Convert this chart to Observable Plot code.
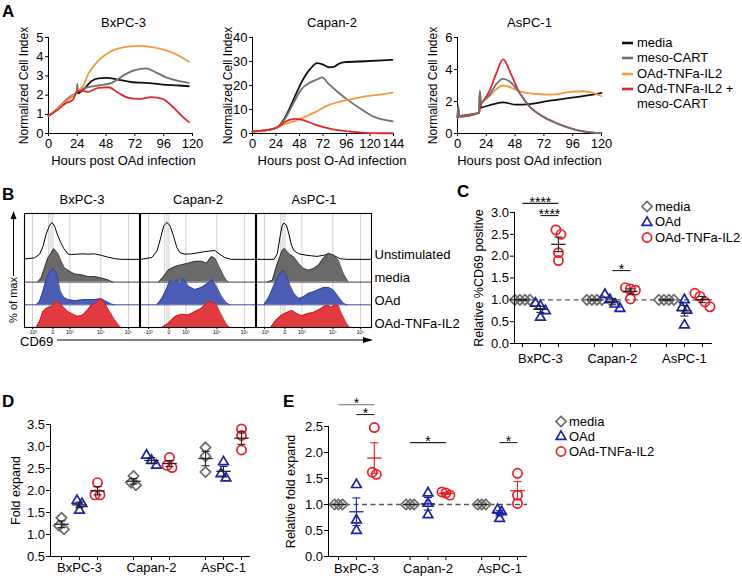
<!DOCTYPE html>
<html><head><meta charset="utf-8">
<script src="https://cdn.jsdelivr.net/npm/d3@7"></script>
<script src="https://cdn.jsdelivr.net/npm/@observablehq/plot@0.6"></script>
<style>
body{margin:0;background:#fff;}
#fig{position:relative;width:742px;height:578px;overflow:hidden;font-family:"Liberation Sans",Arial,Helvetica,sans-serif;color:#000;background:#fff;}
.lbl{position:absolute;font-weight:bold;font-size:17px;line-height:17px;}
.leg{position:absolute;font-size:13px;line-height:15px;white-space:nowrap;}
</style></head><body><div id="fig"></div>
<script>
// ---------------- DATA ----------------
// Panel A: real-time cell index (hours, normalized cell index)
const aSeries = ["media", "meso-CART", "OAd-TNFa-IL2", "OAd-TNFa-IL2 + meso-CART"];
const aColors = ["#111111", "#707070", "#f39a3c", "#e5262b"];

const bxMedia = [[0,0.92],[5,1.15],[10,1.42],[15,1.7],[20,1.95],[23.5,2.12],[24,2.3],[24.5,2.1],[29,2.29],[36,2.73],[41.5,2.87],[48.5,2.9],[58,2.81],[70,2.67],[81,2.64],[95,2.55],[109,2.5],[117,2.46]];
const bxCart  = [[0,0.92],[5,1.15],[10,1.45],[15,1.78],[20,2.0],[23.5,2.15],[24,2.6],[24.5,2.2],[27.5,2.29],[33,2.41],[41.5,2.5],[52.7,2.64],[64,3.08],[72,3.3],[81,3.39],[89,3.2],[97.5,2.94],[109,2.73],[117,2.64]];
const bxOAd   = [[0,0.92],[5,1.15],[10,1.42],[15,1.7],[20,1.95],[24,2.2],[29,2.5],[33,3.08],[38.7,3.6],[50,4.21],[61,4.47],[75,4.56],[86,4.5],[97.5,4.34],[109,4.04],[117,3.74]];
const bxCombo = [[0,0.92],[5,1.12],[10,1.35],[13.5,1.54],[20.5,1.77],[24,2.2],[28,2.22],[33,2.17],[41.5,2.38],[50,2.41],[58,2.12],[67,1.85],[75,1.8],[86,1.89],[95,1.8],[103,1.42],[111.5,0.89],[117,0.59]];

const caMediaA = [[0,0.85],[16,1.5],[25,2.5],[33,6.5],[42,14.2],[50,21.3],[59,26.9],[66,29.3],[72,28.7],[78,27.6],[83,27.8],[88,29],[94.5,29.7],[115,30.1],[143,30.7]];
const caCartA  = [[0,0.85],[16,1.5],[25,2.5],[33,6],[42,12.8],[50,18.5],[59,21.3],[67,22.7],[71,23.4],[77.5,20.8],[88,17],[98,13.8],[111.5,10],[125,6.8],[143,5.1]];
const caOAdA   = [[0,0.85],[16,1.5],[25,2.5],[33,3.9],[47,5.8],[64,8.9],[77.5,11.8],[94.5,13.8],[111.5,15.2],[132,16.3],[143,17]];
const caComboA = [[0,0.85],[16,1.5],[25,2.5],[33,4.8],[43.5,6.1],[50,5.8],[64,3.7],[81,1.8],[98,0.85],[115,0.3],[143,0.1]];

const asMediaA = [[0,1.0],[0.6,1.7],[1.2,1.05],[18,1.3],[18.6,2.6],[19.5,1.6],[21,1.64],[26.5,1.76],[37.7,1.95],[49,1.8],[60,1.84],[77,2.05],[93.6,2.22],[107.5,2.37],[120,2.54]];
const asCartA  = [[0,1.0],[0.6,1.75],[1.2,1.05],[18,1.3],[18.6,2.65],[19.5,1.9],[21,2.0],[26.5,2.4],[32,3.06],[37.7,3.42],[43.3,3.27],[51.7,2.54],[60,1.7],[71,1.07],[82.4,0.65],[93.6,0.34],[104.7,0.13],[120,0.02]];
const asOAdA   = [[0,1.0],[1.2,1.05],[18,1.3],[18.6,2.7],[19.5,1.9],[21,2.0],[26.5,2.33],[32,2.75],[37.7,3.0],[43.3,2.9],[51.7,2.64],[65.6,2.47],[79.6,2.43],[93.6,2.6],[104.7,2.64],[113,2.54],[120,2.33]];
const asComboA = [[0,1.0],[1.2,1.05],[18,1.3],[19.5,1.8],[21,1.97],[26.5,2.64],[32,3.69],[38,4.63],[44.7,3.69],[51.7,2.54],[60,1.7],[71,1.07],[82.4,0.65],[93.6,0.34],[104.7,0.13],[120,0.02]];

// Panel B: CD69 histograms (display channel 0-1000, height in % of max)
const bRows = ["Unstimulated", "media", "OAd", "OAd-TNFa-IL2"];
const bTickCh = [70, 247, 395, 664, 905];
const bTickLab = ["-10³", "0", "10³", "10⁴", "10⁵"];
const bGridCh = [70, 210, 230, 247, 395, 664, 905];

const bxUnstim = [[0,1],[87,4],[131,14],[160,34],[189,69],[218,92],[238,99],[261,90],[284,69],[313,47],[342,29],[377,15],[406,13],[450,14],[508,15],[551,14],[609,15],[667,11],[725,6],[783,2],[841,0],[1000,0]];
const bxMediaH = [[116,0],[145,11],[174,38],[203,65],[232,78],[252,90],[276,83],[296,74],[319,56],[348,38],[392,29],[435,22],[493,20],[551,15],[609,15],[667,11],[725,6],[769,0]];
const bxOAdH   = [[102,0],[131,9],[160,36],[189,68],[218,90],[247,97],[270,90],[290,68],[313,36],[342,20],[377,14],[435,11],[522,14],[609,14],[667,16],[711,9],[754,2],[783,0]];
const bxTnfH   = [[102,0],[131,16],[160,43],[189,52],[232,57],[276,70],[305,66],[334,57],[377,43],[421,36],[464,30],[508,34],[551,48],[580,61],[624,66],[661,79],[696,66],[740,43],[783,21],[827,3],[841,0]];

const caUnstim = [[0,0],[100,5],[144,23],[172,54],[201,90],[230,100],[258,90],[287,63],[316,32],[344,18],[387,14],[445,15],[502,18],[560,21],[617,23],[646,24],[689,14],[732,5],[789,0],[1000,0]];
const caMediaH = [[158,0],[201,15],[244,33],[301,42],[359,47],[416,51],[474,56],[531,56],[574,51],[617,69],[646,65],[689,38],[732,11],[761,0]];
const caOAdH   = [[144,0],[187,18],[230,45],[258,68],[287,59],[316,68],[344,54],[373,72],[416,50],[474,41],[531,47],[588,59],[623,68],[660,50],[703,23],[746,5],[775,0]];
const caTnfH   = [[187,0],[244,12],[301,30],[359,36],[416,34],[474,43],[531,52],[574,66],[617,70],[660,61],[703,34],[746,9],[775,0]];

const asUnstim = [[0,0],[152,0],[181,15],[204,60],[224,92],[238,98],[261,92],[281,69],[301,42],[324,24],[367,15],[439,11],[525,8],[583,11],[626,15],[669,11],[726,2],[784,0],[1000,0]];
const asMediaH = [[95,0],[138,5],[181,50],[224,86],[244,91],[267,82],[296,73],[324,68],[367,50],[410,37],[453,32],[497,37],[540,46],[583,65],[626,78],[669,73],[712,59],[755,23],[798,0]];
const asOAdH   = [[66,0],[109,22],[152,53],[195,80],[232,94],[261,80],[290,53],[324,31],[367,17],[410,22],[453,31],[497,35],[540,41],[583,47],[626,47],[669,40],[712,22],[755,4],[784,0]];
const asTnfH   = [[123,0],[166,19],[210,32],[267,41],[310,46],[353,37],[396,32],[439,37],[497,41],[554,50],[597,59],[626,59],[654,55],[683,62],[712,59],[740,37],[784,10],[812,0]];

// Panels C, D, E: groups x treatments
const groups = ["BxPC-3", "Capan-2", "AsPC-1"];
const treatments = ["media", "OAd", "OAd-TNFa-IL2"];
const treatColors = ["#6b6b6b", "#1c22a6", "#e81e25"];
const treatSymbols = ["diamond2", "triangle2", "circle"];

const cMedia = [[1,1,1,1],[1,1,1,1],[1,1,1,1]];
const cOAd   = [[0.92,0.86,0.6,0.75],[1.12,1.0,0.9,0.8],[1.0,0.82,0.76,0.42]];
const cTnf   = [[2.6,2.5,2.08,1.9],[1.22,1.02,1.25,1.28],[1.15,1.08,0.95,0.84]];
const cSig = [{a:0,b:2,y:3.21,label:"****",color:"#222"},{a:1,b:2,y:2.93,label:"****",color:"#222"},{a:5,b:6,y:1.67,label:"*",color:"#222"}];

const dMedia = [[1.12,1.38,1.2],[2.33,2.18,2.12],[2.98,2.78,2.42]];
const dOAd   = [[1.77,1.7,1.55],[2.8,2.68,2.57],[2.65,2.28,2.38]];
const dTnf   = [[2.18,1.9,1.9],[2.75,2.57,2.52],[3.4,3.25,2.92]];

const eMedia = [[1,1,1],[1,1,1],[1,1,1]];
const eOAd   = [[1.38,0.7,0.5],[1.22,1.02,0.8],[0.9,0.86,0.73]];
const eTnf   = [[2.48,1.58,1.62],[1.24,1.22,1.18],[1.6,1.18,1.02]];
const eSig = [{a:0,b:2,y:2.92,label:"*",color:"#8c8c8c"},{a:1,b:2,y:2.73,label:"*",color:"#222"},{a:4,b:6,y:2.19,label:"*",color:"#222"},{a:9,b:10,y:2.19,label:"*",color:"#222"}];

// ---------------- HELPERS ----------------
const FONT = '"Liberation Sans", Arial, Helvetica, sans-serif';
const fig = document.getElementById("fig");
const baseStyle = {fontFamily: FONT, fontSize: "13px", background: "transparent", overflow: "visible", color: "#000"};
function place(el, left, top) {
  el.style.position = "absolute"; el.style.left = left + "px"; el.style.top = top + "px";
  fig.appendChild(el); return el;
}
const fmtInt = d => String(d);

// ---------------- PANEL A ----------------
function curvePanel(o) {
  const marks = [
    Plot.ruleX([0], {stroke: "#000"}),
    Plot.ruleY([0], {stroke: "#000"}),
    Plot.axisX({ticks: d3.range(0, o.xMax + 1, 24), tickSize: 3, tickPadding: 2, tickFormat: fmtInt, label: null, fontSize: 13}),
    Plot.axisY({ticks: o.yTicks, tickSize: 3, tickPadding: 2, tickFormat: fmtInt, label: null, fontSize: 13})
  ];
  o.order.forEach(k => marks.push(Plot.line(o.series[k], {x: d => d[0], y: d => d[1], stroke: aColors[k], strokeWidth: 1.8, curve: "monotone-x"})));
  marks.push(Plot.text([o.title], {text: d => d, frameAnchor: "top", lineAnchor: "middle", textAnchor: "middle", dy: -15, dx: o.tdx, fontSize: 13}));
  marks.push(Plot.text([o.xlabel], {text: d => d, frameAnchor: "bottom", lineAnchor: "middle", textAnchor: "middle", dy: 27, dx: o.tdx, fontSize: 13}));
  marks.push(Plot.text(["Normalized Cell Index"], {text: d => d, frameAnchor: "left", textAnchor: "middle", lineAnchor: "middle", dx: -24, rotate: -90, fontSize: 12}));
  const svg = Plot.plot({
    width: o.width, height: 170, marginLeft: o.ml, marginRight: o.mr, marginTop: 37, marginBottom: 37,
    x: {domain: [0, o.xMax]}, y: {domain: [0, o.yMax]}, style: baseStyle, marks
  });
  place(svg, o.left, 0);
}
curvePanel({left: 0, width: 200, ml: 48, mr: 8, xMax: 120, yMax: 5, yTicks: [0,1,2,3,4,5], title: "BxPC-3", xlabel: "Hours post OAd infection", tdx: 3,
  series: [bxMedia, bxCart, bxOAd, bxCombo], order: [0,1,2,3]});
curvePanel({left: 200, width: 200, ml: 52, mr: 7, xMax: 144, yMax: 40, yTicks: [0,10,20,30,40], title: "Capan-2", xlabel: "Hours post O-Ad infection", tdx: 9,
  series: [caMediaA, caCartA, caOAdA, caComboA], order: [0,1,2,3]});
curvePanel({left: 400, width: 210, ml: 57, mr: 9, xMax: 120, yMax: 6, yTicks: [0,2,4,6], title: "AsPC-1", xlabel: "Hours post OAd infection", tdx: 0,
  series: [asMediaA, asCartA, asOAdA, asComboA], order: [0,2,3,1]});

// legend A
(function () {
  const tops = [43, 58, 74, 89];
  aSeries.forEach((name, k) => {
    const row = document.createElement("div"); row.className = "leg";
    row.innerHTML = `<svg width="14" height="4" style="position:absolute;left:0;top:6px"><line x1="1" y1="2" x2="12" y2="2" stroke="${aColors[k]}" stroke-width="2.6"/></svg>` +
      `<span style="position:absolute;left:16px;top:0">${name.replace(" + ", " +<br>")}</span>`;
    place(row, 621, tops[k] - 8);
  });
})();

// ---------------- PANEL B ----------------
(function () {
  const sets = [[bxUnstim, bxMediaH, bxOAdH, bxTnfH], [caUnstim, caMediaH, caOAdH, caTnfH], [asUnstim, asMediaH, asOAdH, asTnfH]];
  const peak = 1.63 / 100; // 100% of max = 1.63 row heights
  const rowsOf = r => sets.flatMap((s, g) => s[r].map(([ch, h]) => ({cell: groups[g], ch, base: 3 - r, top: 3 - r + h * peak})));
  const fills = [null, "#6a6a6a", "#4b5db4", "#e23a40"];
  const strokes = ["#000", "#2e2e2e", "#27399a", "#c4161d"];
  const marks = [
    Plot.ruleX(bGridCh, {stroke: "#c4c4c4", strokeWidth: 0.8}),
    Plot.line(rowsOf(0), {x: "ch", y: "top", fx: "cell", stroke: "#000", strokeWidth: 1})
  ];
  for (let r = 1; r < 4; r++) {
    const data = rowsOf(r);
    marks.push(Plot.ruleY([3 - r], {stroke: strokes[r], strokeWidth: 0.9}));
    marks.push(Plot.area(data, {x1: "ch", y1: "base", y2: "top", fx: "cell", fill: fills[r]}));
    marks.push(Plot.line(data, {x: "ch", y: "top", fx: "cell", stroke: strokes[r], strokeWidth: 0.8}));
  }
  marks.push(Plot.frame({stroke: "#000", strokeWidth: 1.1}));
  marks.push(Plot.axisFx({anchor: "top", label: null, tickSize: 0, tickPadding: 10, fontSize: 13}));
  marks.push(Plot.axisX({ticks: bTickCh, tickFormat: d => bTickLab[bTickCh.indexOf(d)], tickSize: 2, tickPadding: 1, fontSize: 5, label: null}));
  marks.push(Plot.text(bRows, {text: d => d, fx: () => "AsPC-1", x: () => 1000, y: (d, i) => 3 - i + 0.18, dx: 3, textAnchor: "start", fontSize: 13}));
  const svg = Plot.plot({
    width: 470, height: 150, marginLeft: 23, marginRight: 98, marginTop: 23, marginBottom: 13,
    x: {domain: [0, 1000]}, y: {domain: [0, 5.02], axis: null},
    fx: {domain: groups, paddingInner: 0.012, paddingOuter: 0},
    style: baseStyle, marks
  });
  place(svg, 0, 190);
})();

// annotation arrows for B
(function () {
  const ov = document.createElementNS("http://www.w3.org/2000/svg", "svg");
  ov.setAttribute("width", 742); ov.setAttribute("height", 578);
  ov.style.cssText = "position:absolute;left:0;top:0;overflow:visible";
  ov.innerHTML = `
    <line x1="13.5" y1="276" x2="13.5" y2="218" stroke="#000" stroke-width="1"/>
    <path d="M13.5,211 L10.5,219 L16.5,219 Z" fill="#000"/>
    <text transform="translate(17,300) rotate(-90)" text-anchor="middle" font-size="11" font-family='${FONT}'>% of max</text>
    <text x="20" y="346" font-size="13" font-family='${FONT}'>CD69</text>
    <line x1="57" y1="340" x2="364" y2="340" stroke="#000" stroke-width="1"/>
    <path d="M373,340 L363,337 L363,343 Z" fill="#000"/>`;
  fig.appendChild(ov);
})();

// ---------------- PANELS C, D, E ----------------
function dotPanel(o) {
  const xs = d3.scaleLinear(o.xDomain, [o.ml, o.width - o.mr]);
  const ys = d3.scaleLinear(o.yDomain, [o.height - o.mb, o.mt]);
  const pxPerUnit = xs(1) - xs(0);
  const pts = [], summ = [];
  o.series.forEach((byGroup, t) => byGroup.forEach((vals, g) => {
    const pos = g * 4 + t;
    const sorted = vals.map(v => ({v, py: ys(v)})).sort((a, b) => a.py - b.py);
    const bins = [];
    sorted.forEach(p => {
      const last = bins[bins.length - 1];
      if (last && p.py - last[last.length - 1].py < 6) last.push(p); else bins.push([p]);
    });
    bins.forEach(bin => bin.forEach((p, j) => pts.push({t, v: p.v, x: pos + (j - (bin.length - 1) / 2) * o.spread / pxPerUnit})));
    const m = d3.mean(vals), s = (d3.deviation(vals) || 0) / Math.sqrt(vals.length);
    summ.push({t, pos, m, lo: m - s, hi: m + s});
  }));
  const positions = [0, 1, 2, 4, 5, 6, 8, 9, 10];
  const marks = [];
  if (o.dashed) marks.push(Plot.ruleY([1], {stroke: "#555", strokeWidth: 1.4, strokeDasharray: "5,3.5"}));
  treatments.forEach((_, t) => marks.push(Plot.dot(pts.filter(p => p.t === t), {x: "x", y: "v", symbol: treatSymbols[t], r: 4.6, stroke: treatColors[t], strokeWidth: 1.7, fill: "none"})));
  treatments.forEach((_, t) => {
    const sd = summ.filter(d => d.t === t);
    const col = o.colored ? treatColors[t] : "#222";
    marks.push(Plot.link(sd, {x1: "pos", x2: "pos", y1: "lo", y2: "hi", stroke: col, strokeWidth: 1.1}));
    marks.push(Plot.link(sd, {x1: d => d.pos - 0.22, x2: d => d.pos + 0.22, y1: "hi", y2: "hi", stroke: col, strokeWidth: 1.1}));
    marks.push(Plot.link(sd, {x1: d => d.pos - 0.22, x2: d => d.pos + 0.22, y1: "lo", y2: "lo", stroke: col, strokeWidth: 1.1}));
    marks.push(Plot.link(sd, {x1: d => d.pos - 0.4, x2: d => d.pos + 0.4, y1: "m", y2: "m", stroke: o.colored && t > 0 ? col : "#222", strokeWidth: 1.3}));
  });
  o.sig.forEach(s => marks.push(Plot.link([s], {x1: "a", x2: "b", y1: "y", y2: "y", stroke: s.color, strokeWidth: 1.1})));
  marks.push(Plot.text(o.sig, {x: d => (d.a + d.b) / 2, y: "y", text: "label", dy: -1, fontSize: 14}));
  marks.push(
    Plot.ruleX([o.xDomain[0]], {stroke: "#000"}),
    Plot.ruleY([o.yDomain[0]], {stroke: "#000"}),
    Plot.axisY({ticks: o.yTicks, tickSize: 4, tickPadding: 1.5, tickFormat: d3.format(".1f"), label: null, fontSize: 13}),
    Plot.axisX({ticks: positions, tickSize: 4, tickFormat: () => "", label: null}),
    Plot.axisX({ticks: [1, 5, 9], tickSize: 0, tickPadding: o.tickPad, tickFormat: d => groups[Math.round((d - 1) / 4)], label: null, fontSize: 13}),
    Plot.text([o.ylabel], {text: d => d, frameAnchor: "left", textAnchor: "middle", lineAnchor: "middle", dx: o.ylabelDx, rotate: -90, fontSize: 12.5})
  );
  const svg = Plot.plot({
    width: o.width, height: o.height, marginLeft: o.ml, marginRight: o.mr, marginTop: o.mt, marginBottom: o.mb,
    x: {domain: o.xDomain}, y: {domain: o.yDomain}, style: baseStyle, marks
  });
  place(svg, o.left, o.top);
}

dotPanel({left: 440, top: 185, width: 280, height: 190, ml: 74, mr: 8, mt: 27, mb: 32,
  xDomain: [-0.44, 10.56], yDomain: [0, 3], yTicks: d3.range(0, 3.01, 0.5), ylabel: "Relative %CD69 positive", ylabelDx: -36,
  series: [cMedia, cOAd, cTnf], sig: cSig, dashed: true, colored: false, tickPad: 10, spread: 5});
dotPanel({left: 0, top: 390, width: 258, height: 188, ml: 50, mr: 8, mt: 34, mb: 22,
  xDomain: [-0.61, 10.5], yDomain: [0.5, 3.5], yTicks: d3.range(0.5, 3.51, 0.5), ylabel: "Fold expand", ylabelDx: -35,
  series: [dMedia, dOAd, dTnf], sig: [], dashed: false, colored: false, tickPad: 6, spread: 5});
dotPanel({left: 270, top: 390, width: 262, height: 188, ml: 58, mr: 5, mt: 36, mb: 22,
  xDomain: [-0.56, 10.56], yDomain: [0, 2.5], yTicks: d3.range(0, 2.51, 0.5), ylabel: "Relative fold expand", ylabelDx: -38,
  series: [eMedia, eOAd, eTnf], sig: eSig, dashed: true, colored: true, tickPad: 7, spread: 4});

// legends C and E
function symLegend(left, top, step) {
  treatments.forEach((name, t) => {
    const row = document.createElement("div"); row.className = "leg";
    const path = d3.symbol(t === 0 ? d3.symbolDiamond2 : t === 1 ? d3.symbolTriangle2 : d3.symbolCircle, Math.PI * 4.6 * 4.6)();
    row.innerHTML = `<svg width="14" height="14" style="position:absolute;left:0;top:0.5px;overflow:visible"><path transform="translate(7,7.5)" d="${path}" fill="none" stroke="${treatColors[t]}" stroke-width="1.7"/></svg>` +
      `<span style="position:absolute;left:15px;top:0">${name}</span>`;
    place(row, left, top + t * step - 7.5);
  });
}
symLegend(640, 206, 15.5);
symLegend(554, 421, 15);

// panel letters
[["A", 2, 3], ["B", 2, 186], ["C", 457, 183], ["D", 2, 393], ["E", 283, 393]].forEach(([t, x, y]) => {
  const d = document.createElement("div"); d.className = "lbl"; d.textContent = t; place(d, x, y);
});
</script></body></html>
